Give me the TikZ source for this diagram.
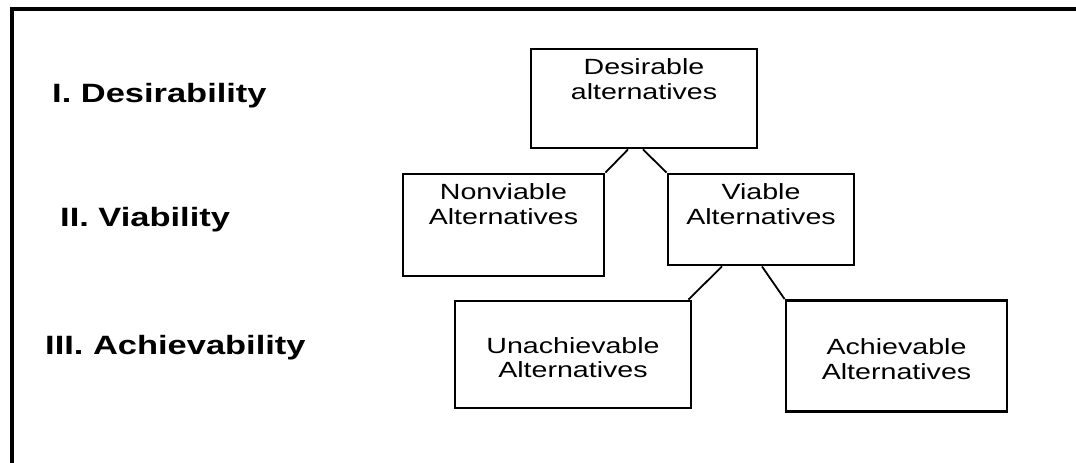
\documentclass[tikz,border=0pt]{standalone}
\usepackage{fontspec}
\setmainfont[FakeStretch=1.3]{Liberation Sans}
\tikzset{box/.style={draw, line width=2.9pt, inner sep=0pt, align=center}, boxtext/.style={align=center, inner sep=0pt, font=\fontsize{22}{24.5}\selectfont}, toptext/.style={boxtext, anchor=north, yshift=-11pt}, midtext/.style={boxtext, anchor=center, yshift=-3pt}, stage/.style={anchor=base west, inner sep=0pt, font=\fontsize{26.5}{30}\selectfont\bfseries}, link/.style={line width=1.8pt}}

\begin{document}
\begin{tikzpicture}[x=1pt,y=-1pt]
\useasboundingbox (0,0) rectangle (1076,463);
\clip (0,0) rectangle (1076,463);
\draw[line width=4pt] (12,480) -- (12,9) -- (1090,9);
\node[stage] (lvl1) at (52,102) {I. Desirability};
\node[stage] (lvl2) at (60,226) {II. Viability};
\node[stage] (lvl3) at (45,354) {III. Achievability};
\node[box,minimum width=226pt,minimum height=99pt,label={[toptext]north:{Desirable\\alternatives}}] (desir) at (644,98.5) {};
\node[box,minimum width=201pt,minimum height=102pt,label={[toptext]north:{Nonviable\\Alternatives}}] (nonviab) at (503.5,225) {};
\node[box,minimum width=186pt,minimum height=91pt,label={[toptext]north:{Viable\\Alternatives}}] (viab) at (761,219.5) {};
\node[box,minimum width=236pt,minimum height=107pt,label={[midtext]center:{Unachievable\\Alternatives}}] (unach) at (573,354.5) {};
\node[box,minimum width=221pt,minimum height=111pt,label={[midtext]center:{Achievable\\Alternatives}}] (achiev) at (896.5,356) {};
\draw[link] ([xshift=-16pt]desir.south) -- (nonviab.north east); \draw[link] ([xshift=-1pt]desir.south) -- (viab.north west);
\draw[link] ([xshift=-39pt]viab.south) -- ([xshift=-4pt]unach.north east); \draw[link] ([xshift=1pt]viab.south) -- (achiev.north west);
\end{tikzpicture}
\end{document}
